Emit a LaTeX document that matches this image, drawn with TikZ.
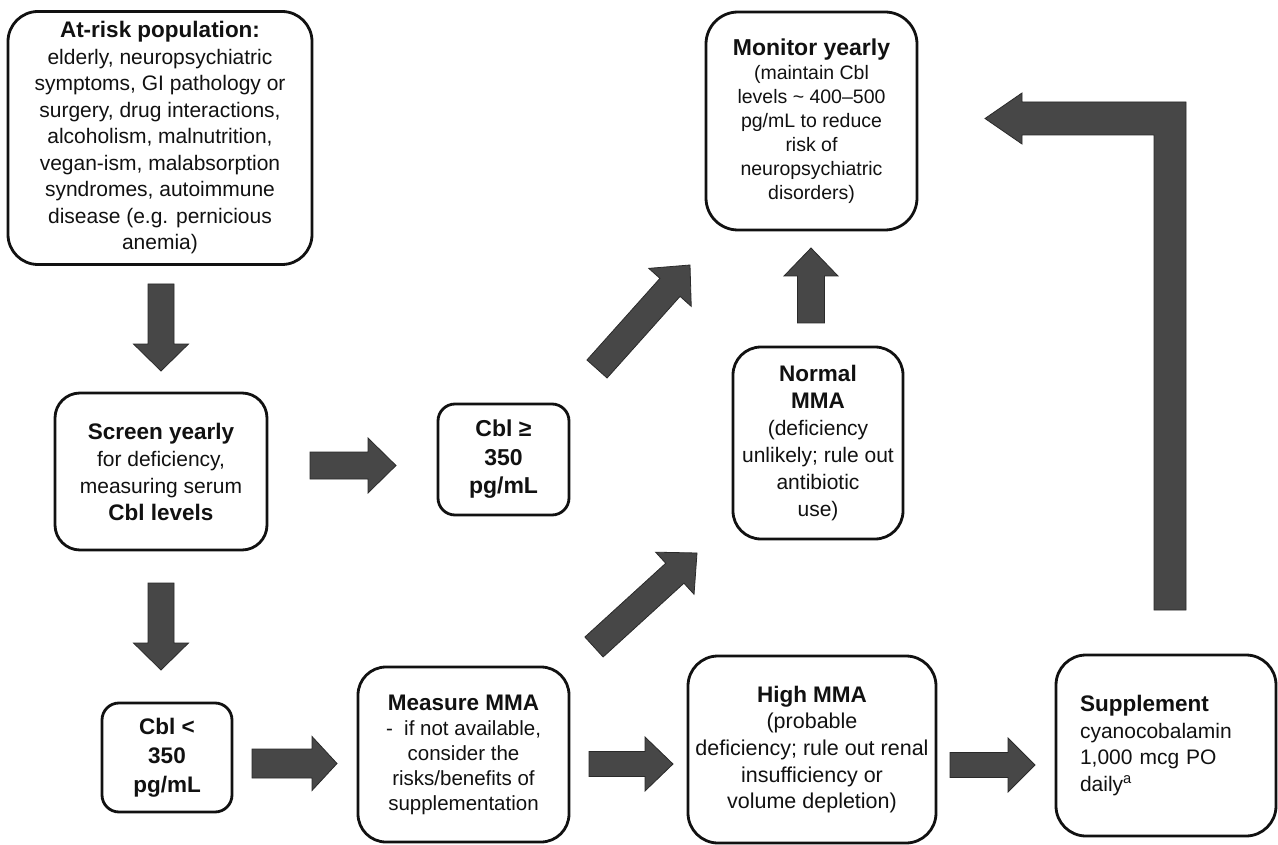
\documentclass[tikz,border=0pt]{standalone}
\usepackage{fontspec}
\setmainfont{Liberation Sans}
\usetikzlibrary{calc}
\definecolor{arrfill}{HTML}{474747}
\definecolor{arredge}{HTML}{2A2A2A}
\definecolor{ink}{HTML}{111111}
\newcommand{\hd}[2]{{\fontsize{#1}{#1}\selectfont\bfseries #2}}
% #1 from, #2 to, #3 half shaft, #4 half head, #5 head length
\newcommand{\blockarrow}[5]{%
  \path[blockarr] let \p1=($(#2)-(#1)$), \n1={atan2(\y1,\x1)}, \n2={veclen(\x1,\y1)-#5} in
    ($(#1)+({\n1+90}:#3)$) -- ($(#1)+(\n1:\n2)+({\n1+90}:#3)$) -- ($(#1)+(\n1:\n2)+({\n1+90}:#4)$)
    -- (#2) -- ($(#1)+(\n1:\n2)+({\n1-90}:#4)$) -- ($(#1)+(\n1:\n2)+({\n1-90}:#3)$)
    -- ($(#1)+({\n1-90}:#3)$) -- cycle;}
\tikzset{
  box/.style={draw=ink, line width=2.8pt, rounded corners=#1, fill=white, align=center,
    inner sep=0pt, text=ink},
  box/.default=28pt,
  blockarr/.style={fill=arrfill, draw=arredge, line width=0.8pt, line join=miter},
}
\begin{document}
\begin{tikzpicture}[x=1pt,y=1pt]
\fill[white] (0,0) rectangle (1278,-845);
\useasboundingbox (0,0) rectangle (1278,-845);

% ---------- boxes ----------
\node[box=30pt, minimum width=304pt, minimum height=253pt,
      font=\fontsize{21}{26.5}\selectfont] (risk) at (160,-138)
  {\hd{22.5}{At-risk population:}\\ elderly, neuropsychiatric\\ symptoms, GI pathology or\\
   surgery, drug interactions,\\ alcoholism, malnutrition,\\ vegan-ism, malabsorption\\
   syndromes, autoimmune\\ disease (e.g. pernicious\\ anemia)};

\node[box=25pt, minimum width=212pt, minimum height=157pt,
      font=\fontsize{21}{27}\selectfont] (screen) at (161,-471.5)
  {\hd{22.5}{Screen yearly}\\ for deficiency,\\ measuring serum\\ \hd{22.5}{Cbl levels}};

\node[box=17pt, minimum width=131pt, minimum height=111pt,
      font=\fontsize{23}{28.5}\selectfont\bfseries] (cblge) at (503.5,-459.5)
  {Cbl ≥\\ 350\\ pg/mL};

\node[box=17pt, minimum width=130pt, minimum height=109pt,
      font=\fontsize{22.5}{29}\selectfont\bfseries] (cbllt) at (167,-757.5)
  {Cbl <\\ 350\\ pg/mL};

\node[box=28pt, minimum width=211pt, minimum height=175pt,
      font=\fontsize{20.5}{25}\selectfont] (measure) at (463.5,-754.5)
  {\hd{22.5}{Measure MMA}\\ -\ \ if not available,\\ consider the\\ risks/benefits of\\ supplementation};

\node[box=32pt, minimum width=211pt, minimum height=218pt,
      font=\fontsize{19.5}{24}\selectfont] (monitor) at (811.5,-121)
  {\hd{23}{Monitor yearly}\\ (maintain Cbl\\ levels \textasciitilde{} 400–500\\ pg/mL to reduce\\
   risk of\\ neuropsychiatric\\ disorders)};

\node[box=28pt, minimum width=170pt, minimum height=192pt,
      font=\fontsize{21}{27}\selectfont] (normal) at (818,-443)
  {\hd{22.5}{Normal}\\ \hd{22.5}{MMA}\\ (deficiency\\ unlikely; rule out\\ antibiotic\\ use)};

\node[box=30pt, minimum width=248pt, minimum height=187pt,
      font=\fontsize{21.5}{26.7}\selectfont] (high) at (812,-749.5)
  {\hd{22.5}{High MMA}\\ (probable\\ deficiency; rule out renal\\ insufficiency or\\ volume depletion)};

\node[box=30pt, minimum width=220pt, minimum height=181pt, inner xsep=24pt,
      text width=172pt, align=left,
      font=\fontsize{21}{26.5}\selectfont] (supp) at (1166,-745.5)
  {\hd{22.5}{Supplement}\\ cyanocobalamin\\ 1,000 mcg PO\\ daily\textsuperscript{a}};

% ---------- arrow end points ----------
\coordinate (a1s) at (161,-284);   \coordinate (a1e) at (161,-371);
\coordinate (a2s) at (161,-583);   \coordinate (a2e) at (161,-670);
\coordinate (a3s) at (310,-465.5); \coordinate (a3e) at (396,-465.5);
\coordinate (a4s) at (252,-763.5); \coordinate (a4e) at (337,-763.5);
\coordinate (a5s) at (589,-764);   \coordinate (a5e) at (673,-764);
\coordinate (a6s) at (950,-765);   \coordinate (a6e) at (1035,-765);
\coordinate (a7s) at (811,-323);   \coordinate (a7e) at (811,-248);
\coordinate (a8s) at (597,-369);   \coordinate (a8e) at (690,-265);
\coordinate (a9s) at (594,-647);   \coordinate (a9e) at (697,-553);
\coordinate (lbot) at (1170,-610); \coordinate (ltip) at (985,-118.5);

% ---------- block arrows ----------
\blockarrow{a1s}{a1e}{13}{27.5}{27}
\blockarrow{a2s}{a2e}{13}{27.5}{27}
\blockarrow{a3s}{a3e}{13.5}{27.5}{28}
\blockarrow{a4s}{a4e}{14.5}{27}{25}
\blockarrow{a5s}{a5e}{12.5}{27}{28}
\blockarrow{a6s}{a6e}{12.5}{27}{27}
\blockarrow{a7s}{a7e}{13.5}{27}{28}
\blockarrow{a8s}{a8e}{13.5}{28.5}{30}
\blockarrow{a9s}{a9e}{13.5}{28.5}{30}

\path[blockarr] let \p1=(lbot), \p2=(ltip) in
  (\x1-16pt,\y1) -- (\x1-16pt,\y2-16.5pt) -- (\x2+37pt,\y2-16.5pt) -- (\x2+37pt,\y2-25.5pt)
  -- (ltip) -- (\x2+37pt,\y2+25.5pt) -- (\x2+37pt,\y2+16.5pt) -- (\x1+16pt,\y2+16.5pt)
  -- (\x1+16pt,\y1) -- cycle;
\end{tikzpicture}
\end{document}
